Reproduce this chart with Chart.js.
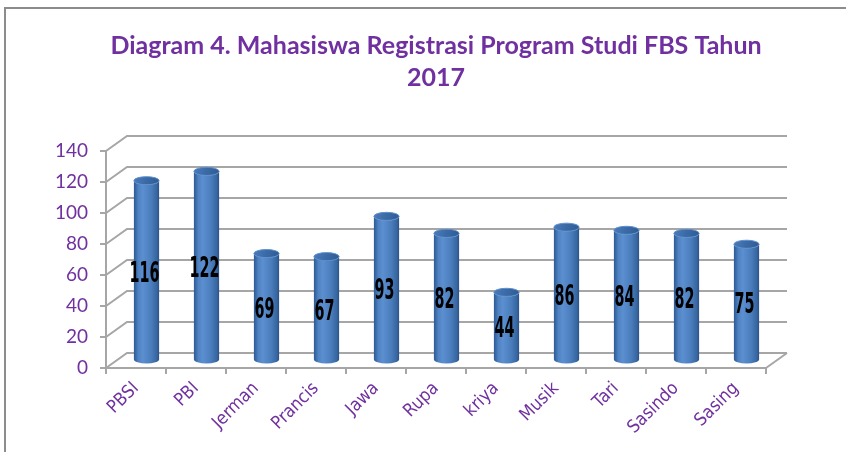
<!DOCTYPE html>
<html lang="id">
<head>
<meta charset="UTF-8" />
<title>Diagram 4. Mahasiswa Registrasi Program Studi FBS Tahun 2017</title>
<script src="https://cdn.jsdelivr.net/npm/chart.js"></script>
<style>
  body { margin: 0; background: #fff; }
  .wrap { position: relative; width: 846px; height: 452px; overflow: hidden; }
  .frame { position: absolute; left: 4px; top: 7px; width: 900px; height: 600px; border: 2px solid #8c8c8c; box-sizing: border-box; }
  canvas { position: absolute; left: 0; top: 0; }
</style>
</head>
<body>
<div class="wrap">
  <div class="frame"></div>
  <canvas id="chart" width="846" height="452"></canvas>
</div>
<script>
  const prodi = ['PBSI', 'PBI', 'Jerman', 'Prancis', 'Jawa', 'Rupa', 'kriya', 'Musik', 'Tari', 'Sasindo', 'Sasing'];
  const mahasiswa = [116, 122, 69, 67, 93, 82, 44, 86, 84, 82, 75];
  const yTicks = [0, 20, 40, 60, 80, 100, 120, 140];

  const ungu = '#7030A0';
  const abu = '#a6a6a6';
  const DX = 21, DY = -15; // kedalaman efek 3D

  // dinding belakang + garis miring dinding samping
  const dinding3D = {
    id: 'dinding3D',
    beforeDatasetsDraw(chart) {
      const { ctx, chartArea: a, scales: { y } } = chart;
      ctx.save();
      ctx.strokeStyle = abu;
      ctx.lineWidth = 2;
      yTicks.forEach(v => {
        const py = y.getPixelForValue(v);
        ctx.beginPath();
        ctx.moveTo(a.left, py);
        ctx.lineTo(a.left + DX, py + DY);
        ctx.lineTo(a.right + DX, py + DY);
        ctx.stroke();
      });
      ctx.beginPath();
      ctx.moveTo(a.right, a.bottom);
      ctx.lineTo(a.right + DX, a.bottom + DY);
      ctx.stroke();
      ctx.restore();
    }
  };

  // batang silinder + label angka
  const silinder = {
    id: 'silinder',
    afterDatasetsDraw(chart) {
      const ctx = chart.ctx;
      const meta = chart.getDatasetMeta(0);
      ctx.save();
      ctx.translate(DX / 2, DY / 2);
      meta.data.forEach((bar, i) => {
        const { x, y, base, width } = bar.getProps(['x', 'y', 'base', 'width'], true);
        const rx = width / 2, ry = width * 0.16;

        const g = ctx.createLinearGradient(x - rx, 0, x + rx, 0);
        g.addColorStop(0, '#2c5a93');
        g.addColorStop(0.18, '#4f83c4');
        g.addColorStop(0.35, '#5b8fd0');
        g.addColorStop(0.7, '#4a7cbb');
        g.addColorStop(0.92, '#36659f');
        g.addColorStop(1, '#2a5186');
        ctx.beginPath();
        ctx.moveTo(x - rx, y);
        ctx.lineTo(x - rx, base);
        ctx.ellipse(x, base, rx, ry, 0, Math.PI, 0, true);
        ctx.lineTo(x + rx, y);
        ctx.ellipse(x, y, rx, ry, 0, 0, Math.PI, false);
        ctx.closePath();
        ctx.fillStyle = g;
        ctx.fill();

        const t = ctx.createLinearGradient(x - rx, y - ry, x + rx, y + ry);
        t.addColorStop(0, '#4b7cba');
        t.addColorStop(0.5, '#3a6aa6');
        t.addColorStop(1, '#2f5a92');
        ctx.beginPath();
        ctx.ellipse(x, y, rx, ry, 0, 0, Math.PI * 2);
        ctx.fillStyle = t;
        ctx.fill();
        ctx.strokeStyle = '#5d8fcc';
        ctx.lineWidth = 1;
        ctx.stroke();

        ctx.save();
        ctx.translate(x - 2, (y + base) / 2 + 4);
        ctx.scale(0.55, 1);
        ctx.font = 'bold 29px "Liberation Sans Narrow", "DejaVu Sans Condensed", sans-serif';
        ctx.fillStyle = '#000';
        ctx.textAlign = 'center';
        ctx.textBaseline = 'middle';
        ctx.fillText(String(mahasiswa[i]), 0, 0);
        ctx.restore();
      });
      ctx.restore();
    }
  };

  new Chart(document.getElementById('chart'), {
    type: 'bar',
    data: {
      labels: prodi,
      datasets: [{
        label: 'Mahasiswa',
        data: mahasiswa,
        backgroundColor: 'rgba(0,0,0,0)',
        borderWidth: 0,
        categoryPercentage: 1,
        barPercentage: 0.42
      }]
    },
    options: {
      responsive: false,
      animation: false,
      layout: { padding: { left: 6, right: 80, top: 0, bottom: 0 } },
      plugins: {
        legend: { display: false },
        tooltip: { enabled: false },
        title: {
          display: true,
          fullSize: false,
          text: ['Diagram 4. Mahasiswa Registrasi Program Studi FBS Tahun', '2017'],
          color: ungu,
          font: { family: 'Lato', weight: 'bold', size: 25, lineHeight: 1.28 },
          padding: { top: 30, bottom: 57 }
        }
      },
      scales: {
        x: {
          grid: { drawOnChartArea: false, color: abu, lineWidth: 2, tickLength: 6, offset: true },
          border: { color: abu, width: 2 },
          ticks: {
            color: ungu,
            font: { family: '"Liberation Sans Narrow", "DejaVu Sans Condensed", sans-serif', size: 18 },
            minRotation: 45, maxRotation: 45, padding: 4
          },
          afterFit: s => { s.height = 84; }
        },
        y: {
          min: 0, max: 140,
          ticks: { stepSize: 20, color: ungu, font: { family: 'Lato', size: 19 }, padding: 12 },
          grid: { drawOnChartArea: false, color: abu, lineWidth: 2, tickLength: 6 },
          border: { color: abu, width: 2 },
          afterFit: s => { s.width = 100; }
        }
      }
    },
    plugins: [dinding3D, silinder]
  });
</script>
</body>
</html>
